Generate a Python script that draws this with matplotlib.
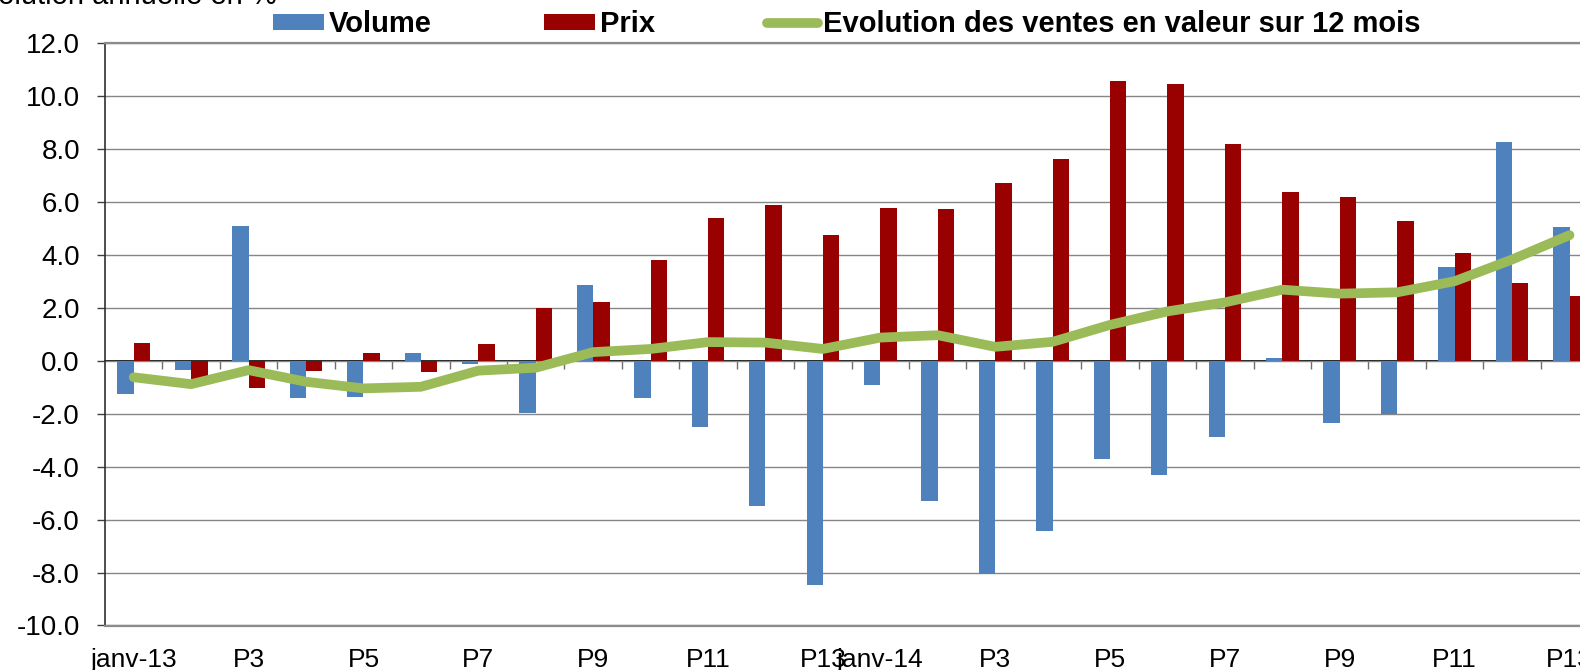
import matplotlib
matplotlib.use('Agg')
import matplotlib.pyplot as plt
import numpy as np

# catégories (périodes de 4 semaines)
categories = ['janv-13'] + ['P%d' % i for i in range(2, 14)] + ['janv-14'] + ['P%d' % i for i in range(2, 14)]
# index des étiquettes affichées sur l'axe
label_idx = [0, 2, 4, 6, 8, 10, 12, 13, 15, 17, 19, 21, 23, 25]

volume = [-1.25, -0.33, 5.08, -1.41, -1.35, 0.28, -0.13, -1.96, 2.88, -1.41, -2.50, -5.49, -8.48,
          -0.91, -5.29, -8.04, -6.44, -3.70, -4.30, -2.87, 0.10, -2.34, -2.01, 3.55, 8.27, 5.05]
prix = [0.68, -0.67, -1.02, -0.39, 0.30, -0.43, 0.64, 2.00, 2.23, 3.82, 5.40, 5.90, 4.74,
        5.79, 5.73, 6.71, 7.63, 10.57, 10.48, 8.19, 6.38, 6.20, 5.29, 4.08, 2.93, 2.44]
valeur = [-0.62, -0.88, -0.35, -0.79, -1.04, -0.98, -0.37, -0.26, 0.33, 0.45, 0.71, 0.69, 0.45,
          0.88, 0.97, 0.53, 0.72, 1.36, 1.87, 2.21, 2.69, 2.54, 2.59, 3.01, 3.83, 4.75]

yticks = np.arange(-10, 12.1, 2)

plt.rcParams['font.family'] = ['Liberation Sans', 'DejaVu Sans']

W, H = 1580, 670
fig = plt.figure(figsize=(W / 100, H / 100), dpi=100)
"""zone de tracé en pixels : gauche 105, haut 43, bas 626, coupée à droite"""
ax = fig.add_axes([105 / W, 1 - 625.5 / H, 1 - 105 / W, (625.5 - 43.3) / H])

x = np.arange(len(categories))
w = 0.285
b1 = ax.bar(x - w / 2, volume, w, color='#4F81BD', label='Volume', zorder=3)
b2 = ax.bar(x + w / 2, prix, w, color='#990000', label='Prix', zorder=3)
l1, = ax.plot(x, valeur, color='#9BBB59', lw=7, solid_capstyle='round', solid_joinstyle='round',
              label='Evolution des ventes en valeur sur 12 mois', zorder=5)

ax.set_ylim(-10, 12)
ax.set_xlim(-0.5, (W - 133.5) / 57.44)

# axe y
ax.set_yticks(yticks)
ax.set_yticklabels(['%.1f' % v for v in yticks])
ax.tick_params(axis='y', length=6, width=1, color='#404040', pad=12, labelsize=20)
ax.grid(axis='y', color='#868686', lw=1, zorder=0)
ax.set_axisbelow(True)

# axe x : étiquettes en bas, sans graduation
ax.set_xticks(label_idx)
ax.set_xticklabels([categories[i] for i in label_idx])
ax.tick_params(axis='x', length=0, pad=16.5, labelsize=19)

ax.spines['right'].set_visible(False)
ax.spines['left'].set_color('#303030')
ax.spines['left'].set_linewidth(1.2)
ax.spines['top'].set_color('#8c8c8c')
ax.spines['top'].set_linewidth(1.6)
ax.spines['bottom'].set_color('#8c8c8c')
ax.spines['bottom'].set_linewidth(1.6)

# ligne du zéro avec graduations entre catégories
zero = ax.secondary_xaxis(10 / 22)
zero.set_xticks(x[:-1] + 0.5)
zero.set_xticklabels([])
zero.tick_params(length=6, width=1, color='#6f6f6f', direction='out')
zero.spines['bottom'].set_color('black')
zero.spines['bottom'].set_linewidth(1.3)
zero.spines['bottom'].set_zorder(4)

# titre coupé en haut à gauche
fig.text(277 / W, 1 - 3.5 / H, 'Evolution annuelle en %', ha='right', va='baseline', fontsize=21)

leg = ax.legend(handles=[b1, b2, l1], loc='center left', bbox_to_anchor=(258 / W, 1 - 24.5 / H),
                bbox_transform=fig.transFigure, ncol=3, frameon=False, borderpad=0,
                handlelength=1.75, handleheight=0.5, handletextpad=0.18, columnspacing=3.84,
                prop={'weight': 'bold', 'size': 21})

plt.savefig('out.png', dpi=100)
